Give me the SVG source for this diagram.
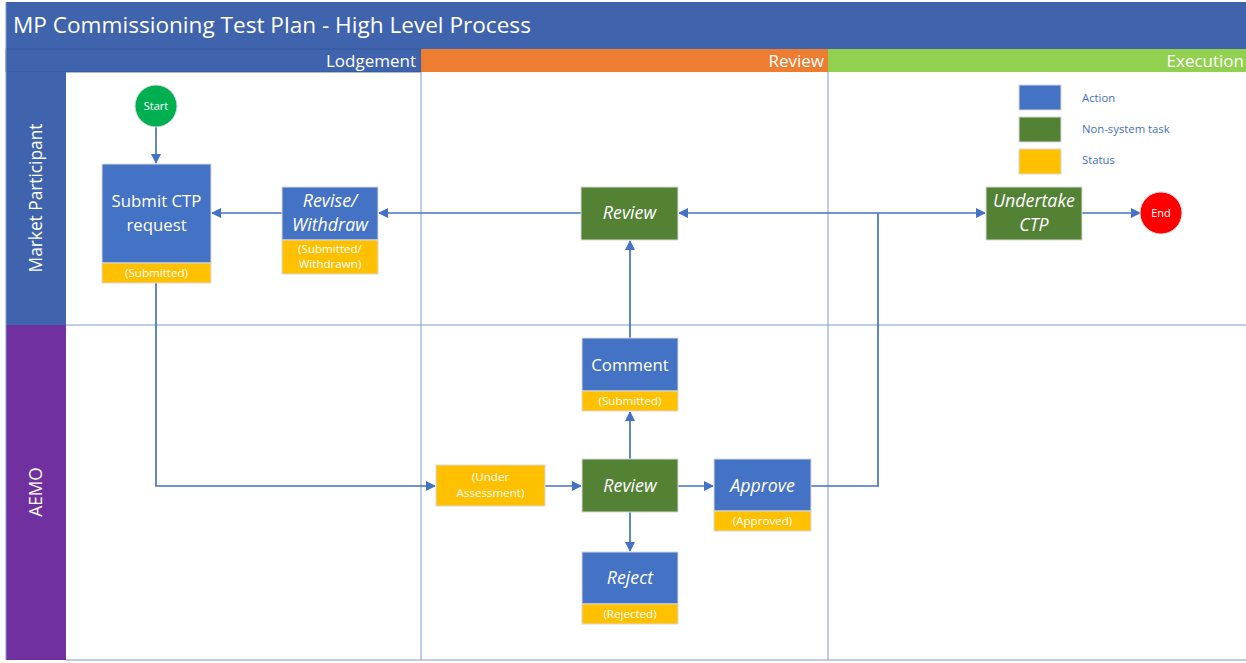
<svg xmlns="http://www.w3.org/2000/svg" width="1246" height="663" viewBox="0 0 1246 663">
<style>
text{font-family:"Open Sans","Noto Sans","DejaVu Sans",sans-serif;fill:#fff}
.act{fill:#4472C4;stroke:#d9d9d9;stroke-width:1}
.task{fill:#548235;stroke:#d9d9d9;stroke-width:1}
.stat{fill:#FFC000;stroke:#d9d9d9;stroke-width:1}
.lbl{font-size:16.8px;text-anchor:middle}
.it{font-style:italic;font-size:17.8px}
.st{font-size:11.6px;text-anchor:middle}
.leg{font-size:11.3px;fill:#4472C4}
.grid{stroke:#7f9bd0;stroke-width:1;fill:none}
.con{stroke:#4472C4;stroke-width:1.7;fill:none}
.ph{font-size:17px;text-anchor:end}
</style>
<defs>
<marker id="ah" markerWidth="10" markerHeight="10" refX="9" refY="5" orient="auto" markerUnits="userSpaceOnUse">
<path d="M0,0 L10,5 L0,10 z" fill="#4472C4"/>
</marker>
</defs>
<rect x="0" y="0" width="1246" height="663" fill="#fff"/>
<g id="frame">
<rect x="6" y="2" width="1240" height="47" fill="#3F64AD"/>
<text x="13" y="33" font-size="22.6px">MP Commissioning Test Plan - High Level Process</text>
<rect x="6" y="49" width="415" height="23" fill="#3F64AD" stroke="#2f5597" stroke-width="0.8"/>
<rect x="421" y="49" width="407" height="23" fill="#ED7D31"/>
<rect x="828" y="49" width="418" height="23" fill="#92D050"/>
<text class="ph" x="416" y="67">Lodgement</text>
<text class="ph" x="824" y="67">Review</text>
<text class="ph" x="1244" y="67">Execution</text>
<rect x="6" y="72" width="60" height="253" fill="#3F64AD"/>
<rect x="6" y="325" width="60" height="335" fill="#7030A0"/>
<text transform="translate(42,198) rotate(-90)" font-size="17.3px" text-anchor="middle">Market Participant</text>
<text transform="translate(42,492) rotate(-90)" font-size="17.3px" text-anchor="middle">AEMO</text>
<line class="grid" x1="66" y1="325" x2="1246" y2="325"/>
<line class="grid" x1="421" y1="72" x2="421" y2="660"/>
<line class="grid" x1="828" y1="72" x2="828" y2="660"/>
<line class="grid" x1="66" y1="660" x2="1246" y2="660"/>
<line class="grid" x1="6" y1="2" x2="6" y2="660"/>
</g>
<g id="connectors">
<line class="con" x1="156" y1="127" x2="156" y2="163" marker-end="url(#ah)"/>
<polyline class="con" points="156,283 156,486 435,486" marker-end="url(#ah)"/>
<line class="con" x1="545" y1="486" x2="581" y2="486" marker-end="url(#ah)"/>
<line class="con" x1="678" y1="486" x2="713" y2="486" marker-end="url(#ah)"/>
<line class="con" x1="630" y1="459" x2="630" y2="412" marker-end="url(#ah)"/>
<line class="con" x1="630" y1="512" x2="630" y2="551" marker-end="url(#ah)"/>
<line class="con" x1="630" y1="338" x2="630" y2="241" marker-end="url(#ah)"/>
<polyline class="con" points="811,486 878,486 878,213"/>
<line class="con" x1="878" y1="213" x2="679" y2="213" marker-end="url(#ah)"/>
<line class="con" x1="878" y1="213" x2="985" y2="213" marker-end="url(#ah)"/>
<line class="con" x1="581" y1="213" x2="379" y2="213" marker-end="url(#ah)"/>
<line class="con" x1="282" y1="213" x2="212" y2="213" marker-end="url(#ah)"/>
<line class="con" x1="1082" y1="213" x2="1140" y2="213" marker-end="url(#ah)"/>
</g>
<g id="start">
<circle cx="156" cy="106" r="21" fill="#00B050" stroke="#d9d9d9" stroke-width="1"/>
<text x="156" y="110" font-size="11px" text-anchor="middle">Start</text>
</g>
<g id="submit">
<rect class="act" x="102" y="164" width="109" height="99"/>
<rect class="stat" x="102" y="263" width="109" height="20"/>
<text class="lbl" x="156.5" y="207">Submit CTP</text>
<text class="lbl" x="156.5" y="231">request</text>
<text class="st" x="156.5" y="277">(Submitted)</text>
</g>
<g id="revise">
<rect class="act" x="282" y="187" width="96" height="53"/>
<rect class="stat" x="282" y="240" width="96" height="34"/>
<text class="lbl it" x="330" y="207">Revise/</text>
<text class="lbl it" x="330" y="231">Withdraw</text>
<text class="st" x="330" y="253">(Submitted/</text>
<text class="st" x="330" y="268">Withdrawn)</text>
</g>
<g id="review-mp">
<rect class="task" x="581" y="187" width="97" height="53"/>
<text class="lbl it" x="629.5" y="219">Review</text>
</g>
<g id="undertake">
<rect class="task" x="986" y="187" width="96" height="53"/>
<text class="lbl it" x="1034" y="207">Undertake</text>
<text class="lbl it" x="1034" y="231">CTP</text>
</g>
<g id="end">
<circle cx="1161" cy="213" r="21" fill="#FF0000" stroke="#d9d9d9" stroke-width="1"/>
<text x="1161" y="217" font-size="11px" text-anchor="middle">End</text>
</g>
<g id="legend">
<rect class="act" x="1019" y="85" width="42" height="25"/>
<rect class="task" x="1019" y="117" width="42" height="25"/>
<rect class="stat" x="1019" y="149" width="42" height="25"/>
<text class="leg" x="1082" y="102">Action</text>
<text class="leg" x="1082" y="133">Non-system task</text>
<text class="leg" x="1082" y="164">Status</text>
</g>
<g id="comment">
<rect class="act" x="582" y="338" width="96" height="53"/>
<rect class="stat" x="582" y="391" width="96" height="20"/>
<text class="lbl" x="630" y="371">Comment</text>
<text class="st" x="630" y="405">(Submitted)</text>
</g>
<g id="under-assessment">
<rect class="stat" x="436" y="465" width="109" height="41"/>
<text class="st" x="490.5" y="481">(Under</text>
<text class="st" x="490.5" y="497">Assessment)</text>
</g>
<g id="review-aemo">
<rect class="task" x="582" y="459" width="96" height="53"/>
<text class="lbl it" x="630" y="492">Review</text>
</g>
<g id="approve">
<rect class="act" x="714" y="459" width="97" height="52"/>
<rect class="stat" x="714" y="511" width="97" height="20"/>
<text class="lbl it" x="762.5" y="492">Approve</text>
<text class="st" x="762.5" y="525">(Approved)</text>
</g>
<g id="reject">
<rect class="act" x="582" y="552" width="96" height="52"/>
<rect class="stat" x="582" y="604" width="96" height="20"/>
<text class="lbl it" x="630" y="584">Reject</text>
<text class="st" x="630" y="618">(Rejected)</text>
</g>
</svg>
